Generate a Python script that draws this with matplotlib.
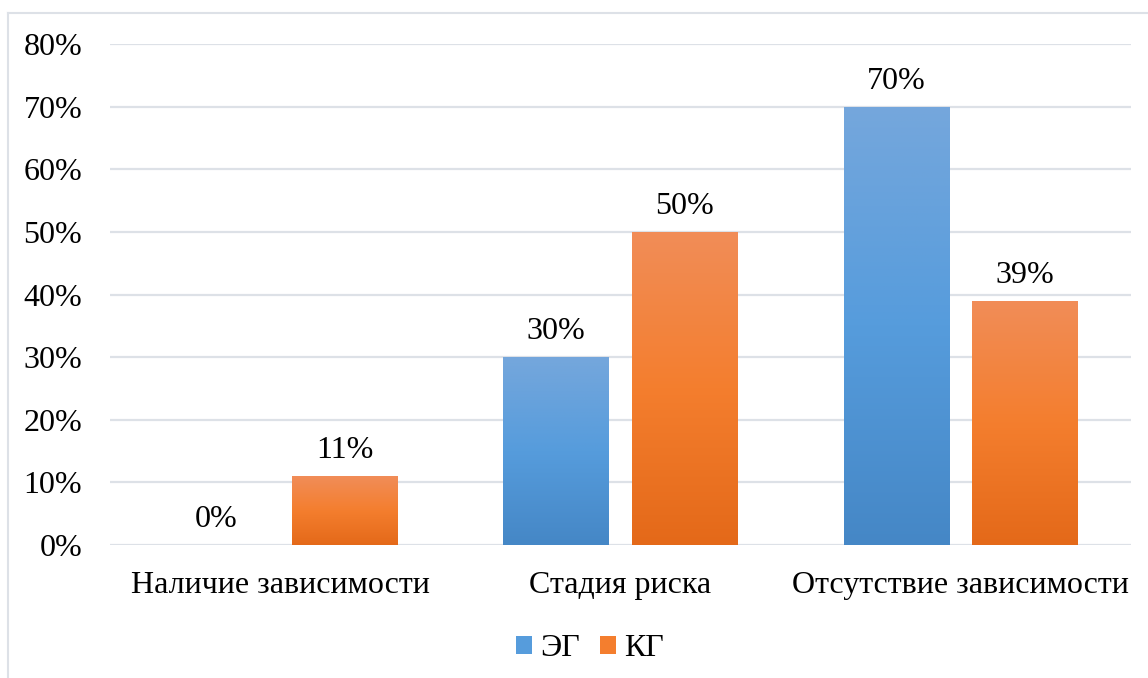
import numpy as np
import matplotlib
matplotlib.use('Agg')
import matplotlib.pyplot as plt
from matplotlib.colors import LinearSegmentedColormap
from matplotlib.patches import Patch
from matplotlib.lines import Line2D

categories = ['Наличие зависимости', 'Стадия риска', 'Отсутствие зависимости']
eg_values = [0.00, 0.30, 0.70]
kg_values = [0.11, 0.50, 0.39]
series_names = ['ЭГ', 'КГ']
y_ticks = [0.0, 0.1, 0.2, 0.3, 0.4, 0.5, 0.6, 0.7, 0.8]

# цвета градиента: низ, середина, верх
blue_grad = ['#4587C6', '#569CDC', '#75A7DC']
orange_grad = ['#E46919', '#F47E2E', '#F18D58']

plt.rcParams['font.family'] = ['Liberation Serif', 'DejaVu Serif']
FS = 23

fig = plt.figure(figsize=(11.48, 6.78), dpi=100)
ax = fig.add_axes([110 / 1148, 133 / 678, 1021 / 1148, 501 / 678])

x = np.arange(len(categories))
width = 0.311
offset = 0.189


def gradient_bars(bars, colors):
    cmap = LinearSegmentedColormap.from_list('g', colors)
    grad = np.linspace(0, 1, 256).reshape(-1, 1)
    for b in bars:
        h = b.get_height()
        if h <= 0:
            continue
        bx, by, bw = b.get_x(), b.get_y(), b.get_width()
        im = ax.imshow(grad, extent=[bx, bx + bw, by, by + h], aspect='auto',
                       cmap=cmap, origin='lower', zorder=3)
        im.set_clip_path(b)


bars_eg = ax.bar(x - offset, eg_values, width, facecolor='none', edgecolor='none', zorder=3)
bars_kg = ax.bar(x + offset, kg_values, width, facecolor='none', edgecolor='none', zorder=3)
gradient_bars(bars_eg, blue_grad)
gradient_bars(bars_kg, orange_grad)

# подписи значений
for xs, vals in [(x - offset, eg_values), (x + offset, kg_values)]:
    for xi, v in zip(xs, vals):
        ax.annotate(f'{round(v * 100)}%', (xi, v), xytext=(0, 8), textcoords='offset points',
                    ha='center', va='bottom', fontsize=FS)

ax.set_xlim(-0.5, len(categories) - 0.5)
ax.set_ylim(0, 0.8)
ax.set_yticks(y_ticks)
ax.set_yticklabels([f'{round(t * 100)}%' for t in y_ticks], fontsize=FS)
ax.set_xticks(x)
ax.set_xticklabels(categories, fontsize=FS)
ax.tick_params(axis='y', length=0, pad=20)
ax.tick_params(axis='x', length=0, pad=19)
for s in ax.spines.values():
    s.set_visible(False)
ax.yaxis.grid(True, color='#DDE1E7', linewidth=1.6, zorder=0)
ax.set_axisbelow(True)

handles = [Patch(facecolor=blue_grad[1], edgecolor='none'),
           Patch(facecolor=orange_grad[1], edgecolor='none')]
fig.legend(handles, series_names, loc='center', bbox_to_anchor=(590 / 1148, 1 - 649 / 678),
           ncol=2, frameon=False, fontsize=FS, handlelength=0.5, handleheight=0.5,
           handletextpad=0.25, columnspacing=0.65)

# рамка диаграммы (видны только верх и левая сторона)
fig.add_artist(Line2D([7.5 / 1148, 7.5 / 1148], [0, 1 - 13 / 678], color='#DDE1E7', lw=1.5))
fig.add_artist(Line2D([7.5 / 1148, 1], [1 - 13 / 678, 1 - 13 / 678], color='#DDE1E7', lw=1.5))

fig.savefig('out.png', dpi=100)
